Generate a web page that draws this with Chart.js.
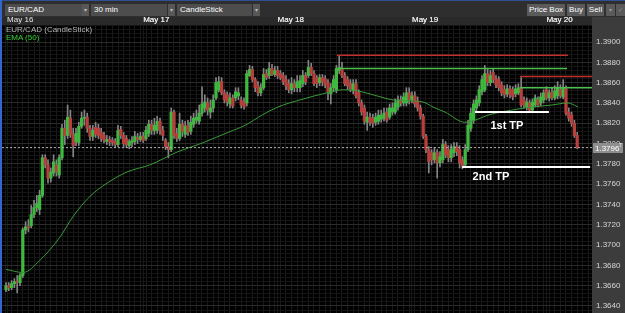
<!DOCTYPE html>
<html><head><meta charset="utf-8">
<script src="https://cdn.jsdelivr.net/npm/chart.js@4.4.1/dist/chart.umd.min.js"></script>
<style>
html,body{margin:0;padding:0;background:#000;width:625px;height:313px;overflow:hidden;font-family:"Liberation Sans",Arial,sans-serif;}
#bar{position:absolute;left:0;top:0;width:625px;height:17px;background:#2e2e2e;border-top:1px solid #2c4f96;box-sizing:border-box;}
.dd{position:absolute;top:3px;height:12px;background:#4d4d4d;color:#fff;font-size:8px;line-height:12px;padding-left:3px;box-sizing:border-box;}
.ar{position:absolute;top:3px;height:12px;width:7px;background:#575757;color:#bbb;font-size:6px;line-height:12px;text-align:center;}
.bt{position:absolute;top:3px;height:12px;background:#5a5a5a;color:#fff;font-size:8px;line-height:12px;text-align:center;}
#side{position:absolute;left:0;top:0;width:2px;height:313px;background:#3466d0;}
#wrap{position:absolute;left:2px;top:17px;width:623px;height:296px;}
.lg{position:absolute;left:6px;font-size:8px;line-height:9px;white-space:nowrap;}
</style></head>
<body>
<div id="bar">
  <div class="dd" style="left:5px;width:77px">EUR/CAD</div><div class="ar" style="left:82px">▾</div>
  <div class="dd" style="left:91px;width:76px">30 min</div><div class="ar" style="left:168px">▾</div>
  <div class="dd" style="left:177px;width:75px">CandleStick</div><div class="ar" style="left:253px">▾</div>
  <div class="bt" style="left:527px;width:38px">Price Box</div>
  <div class="bt" style="left:567px;width:18px">Buy</div>
  <div class="bt" style="left:587px;width:17px">Sell</div>
  <div class="bt" style="left:606px;width:9px;color:#999;font-size:6px">▾</div>
  <div class="bt" style="left:616px;width:9px;color:#999;font-size:6px">✓</div>
</div>
<div id="wrap"><canvas id="c" width="623" height="296"></canvas></div>
<div id="side"></div>
<div class="lg" style="top:25px;color:#b5b5b5">EUR/CAD (CandleStick)</div>
<div class="lg" style="top:33px;color:#33cc33">EMA (50)</div>
<script>
// ---- data (30-min candles, index = candle number) ----
const dayLabels = ['May 16','May 17','May 18','May 19','May 20'];
const dayStart = [0.4, 49, 97, 145, 193];

const open = [
1.3656,1.3660,1.3658,1.3662,1.3664,1.3663,1.3670,1.3715,1.3718,1.3719,
1.3730,1.3737,1.3735,1.3749,1.3786,1.3779,1.3766,1.3771,1.3779,1.3769,
1.3786,1.3815,1.3808,1.3825,1.3809,1.3802,1.3801,1.3817,1.3825,1.3826,
1.3815,1.3807,1.3816,1.3815,1.3811,1.3808,1.3802,1.3804,1.3803,1.3802,
1.3799,1.3814,1.3808,1.3805,1.3798,1.3801,1.3802,1.3806,1.3804,1.3807,
1.3805,1.3810,1.3819,1.3813,1.3813,1.3822,1.3813,1.3803,1.3797,1.3794,
1.3831,1.3810,1.3805,1.3819,1.3809,1.3818,1.3812,1.3819,1.3823,1.3822,
1.3830,1.3835,1.3840,1.3831,1.3835,1.3845,1.3853,1.3861,1.3850,1.3848,
1.3839,1.3845,1.3845,1.3847,1.3843,1.3841,1.3840,1.3867,1.3873,1.3863,
1.3857,1.3850,1.3855,1.3869,1.3867,1.3874,1.3868,1.3872,1.3869,1.3867,
1.3863,1.3859,1.3853,1.3859,1.3855,1.3855,1.3859,1.3867,1.3867,1.3875,
1.3869,1.3865,1.3860,1.3865,1.3864,1.3860,1.3849,1.3855,1.3853,1.3872,
1.3874,1.3867,1.3863,1.3859,1.3853,1.3859,1.3850,1.3840,1.3835,1.3821,
1.3826,1.3825,1.3821,1.3822,1.3824,1.3825,1.3831,1.3826,1.3831,1.3831,
1.3836,1.3843,1.3840,1.3840,1.3850,1.3843,1.3847,1.3842,1.3835,1.3827,
1.3807,1.3794,1.3791,1.3784,1.3791,1.3781,1.3784,1.3799,1.3794,1.3786,
1.3791,1.3797,1.3794,1.3784,1.3779,1.3794,1.3815,1.3823,1.3835,1.3840,
1.3851,1.3853,1.3869,1.3860,1.3870,1.3864,1.3863,1.3858,1.3853,1.3849,
1.3854,1.3853,1.3849,1.3850,1.3855,1.3843,1.3836,1.3840,1.3833,1.3838,
1.3843,1.3840,1.3843,1.3853,1.3845,1.3851,1.3845,1.3847,1.3853,1.3846,
1.3854,1.3831,1.3828,1.3820,1.3808];
const high = [
1.3663,1.3663,1.3665,1.3667,1.3670,1.3672,1.3717,1.3723,1.3725,1.3739,
1.3744,1.3749,1.3754,1.3789,1.3789,1.3784,1.3776,1.3789,1.3784,1.3789,
1.3819,1.3823,1.3838,1.3833,1.3815,1.3815,1.3821,1.3831,1.3833,1.3830,
1.3818,1.3818,1.3821,1.3819,1.3815,1.3811,1.3808,1.3807,1.3806,1.3805,
1.3818,1.3817,1.3811,1.3808,1.3804,1.3807,1.3812,1.3810,1.3811,1.3811,
1.3817,1.3823,1.3823,1.3825,1.3827,1.3825,1.3817,1.3805,1.3801,1.3835,
1.3833,1.3815,1.3830,1.3823,1.3822,1.3823,1.3827,1.3830,1.3833,1.3838,
1.3856,1.3848,1.3845,1.3843,1.3848,1.3865,1.3866,1.3865,1.3853,1.3851,
1.3850,1.3848,1.3855,1.3855,1.3846,1.3845,1.3872,1.3877,1.3876,1.3865,
1.3861,1.3859,1.3874,1.3873,1.3880,1.3878,1.3876,1.3876,1.3872,1.3870,
1.3867,1.3863,1.3865,1.3863,1.3867,1.3867,1.3872,1.3870,1.3882,1.3879,
1.3872,1.3867,1.3868,1.3868,1.3867,1.3863,1.3859,1.3867,1.3877,1.3886,
1.3880,1.3870,1.3866,1.3863,1.3863,1.3863,1.3853,1.3843,1.3838,1.3831,
1.3830,1.3829,1.3830,1.3833,1.3833,1.3835,1.3835,1.3839,1.3840,1.3844,
1.3847,1.3847,1.3850,1.3855,1.3855,1.3851,1.3851,1.3846,1.3838,1.3829,
1.3809,1.3797,1.3794,1.3796,1.3794,1.3792,1.3804,1.3802,1.3798,1.3799,
1.3801,1.3801,1.3798,1.3787,1.3799,1.3823,1.3835,1.3843,1.3847,1.3857,
1.3867,1.3877,1.3873,1.3872,1.3874,1.3867,1.3866,1.3861,1.3857,1.3858,
1.3857,1.3856,1.3858,1.3859,1.3865,1.3846,1.3845,1.3843,1.3844,1.3848,
1.3846,1.3850,1.3853,1.3856,1.3853,1.3855,1.3857,1.3861,1.3858,1.3863,
1.3857,1.3835,1.3831,1.3823,1.3811];
const low = [
1.3654,1.3655,1.3656,1.3658,1.3653,1.3660,1.3668,1.3711,1.3713,1.3717,
1.3727,1.3733,1.3730,1.3747,1.3776,1.3761,1.3762,1.3768,1.3768,1.3766,
1.3784,1.3799,1.3805,1.3806,1.3787,1.3798,1.3798,1.3815,1.3818,1.3811,
1.3803,1.3803,1.3806,1.3805,1.3802,1.3801,1.3799,1.3798,1.3798,1.3796,
1.3797,1.3805,1.3797,1.3796,1.3795,1.3797,1.3799,1.3800,1.3802,1.3801,
1.3803,1.3807,1.3809,1.3809,1.3810,1.3809,1.3803,1.3794,1.3786,1.3792,
1.3805,1.3802,1.3803,1.3807,1.3806,1.3808,1.3809,1.3816,1.3820,1.3819,
1.3827,1.3831,1.3828,1.3825,1.3831,1.3843,1.3851,1.3848,1.3840,1.3837,
1.3835,1.3835,1.3842,1.3843,1.3835,1.3834,1.3837,1.3866,1.3861,1.3851,
1.3847,1.3847,1.3853,1.3863,1.3864,1.3867,1.3866,1.3864,1.3863,1.3858,
1.3853,1.3850,1.3849,1.3851,1.3851,1.3851,1.3856,1.3858,1.3865,1.3867,
1.3857,1.3855,1.3857,1.3857,1.3855,1.3843,1.3839,1.3851,1.3850,1.3869,
1.3865,1.3857,1.3853,1.3851,1.3849,1.3845,1.3837,1.3828,1.3819,1.3813,
1.3818,1.3816,1.3818,1.3819,1.3821,1.3822,1.3821,1.3824,1.3828,1.3829,
1.3833,1.3837,1.3837,1.3837,1.3839,1.3840,1.3836,1.3832,1.3824,1.3805,
1.3791,1.3771,1.3779,1.3781,1.3766,1.3777,1.3781,1.3786,1.3782,1.3782,
1.3787,1.3788,1.3776,1.3775,1.3777,1.3792,1.3812,1.3820,1.3831,1.3837,
1.3848,1.3851,1.3857,1.3857,1.3860,1.3855,1.3852,1.3847,1.3845,1.3846,
1.3845,1.3843,1.3846,1.3848,1.3836,1.3835,1.3833,1.3831,1.3831,1.3836,
1.3836,1.3837,1.3840,1.3843,1.3842,1.3843,1.3843,1.3844,1.3845,1.3844,
1.3828,1.3822,1.3817,1.3806,1.3795];
const close = [
1.3660,1.3658,1.3662,1.3664,1.3663,1.3670,1.3715,1.3718,1.3717,1.3730,
1.3737,1.3741,1.3749,1.3786,1.3779,1.3766,1.3772,1.3782,1.3772,1.3786,
1.3815,1.3808,1.3826,1.3809,1.3798,1.3810,1.3817,1.3825,1.3826,1.3815,
1.3807,1.3813,1.3809,1.3808,1.3805,1.3803,1.3804,1.3802,1.3801,1.3799,
1.3813,1.3808,1.3800,1.3799,1.3802,1.3803,1.3807,1.3804,1.3807,1.3803,
1.3813,1.3819,1.3813,1.3818,1.3822,1.3813,1.3808,1.3797,1.3794,1.3831,
1.3808,1.3805,1.3819,1.3812,1.3817,1.3811,1.3821,1.3825,1.3826,1.3830,
1.3839,1.3841,1.3833,1.3835,1.3843,1.3860,1.3861,1.3850,1.3843,1.3841,
1.3845,1.3837,1.3851,1.3850,1.3838,1.3836,1.3869,1.3873,1.3863,1.3855,
1.3850,1.3855,1.3868,1.3865,1.3874,1.3868,1.3872,1.3867,1.3865,1.3861,
1.3857,1.3853,1.3859,1.3855,1.3861,1.3862,1.3867,1.3861,1.3875,1.3869,
1.3859,1.3859,1.3865,1.3861,1.3858,1.3851,1.3855,1.3863,1.3874,1.3875,
1.3867,1.3859,1.3857,1.3854,1.3859,1.3847,1.3840,1.3831,1.3822,1.3826,
1.3821,1.3820,1.3826,1.3828,1.3828,1.3830,1.3823,1.3835,1.3835,1.3840,
1.3843,1.3840,1.3846,1.3850,1.3843,1.3847,1.3839,1.3835,1.3827,1.3807,
1.3794,1.3782,1.3784,1.3791,1.3781,1.3787,1.3799,1.3789,1.3786,1.3794,
1.3797,1.3792,1.3781,1.3778,1.3794,1.3818,1.3830,1.3839,1.3843,1.3853,
1.3863,1.3869,1.3860,1.3867,1.3863,1.3858,1.3855,1.3850,1.3848,1.3854,
1.3848,1.3846,1.3854,1.3855,1.3838,1.3838,1.3841,1.3833,1.3841,1.3845,
1.3838,1.3846,1.3850,1.3845,1.3850,1.3845,1.3852,1.3855,1.3847,1.3855,
1.3830,1.3825,1.3820,1.3808,1.3796];

// EMA(50) read at candle positions
const emaX = [0,6.1,12.1,19.3,23.9,30,36.1,43.2,51.4,61.4,68.6,79.3,85.4,91.4,97.1,105,114.6,120.4,125.4,131.1,138.2,144.3,148.9,152.5,156.8,163.9,167.5,172.1,180.7,187.9,195,200.7,204.3];
const emaY = [1.3676,1.3673,1.3685,1.3708,1.3728,1.3748,1.3761,1.3772,1.3779,1.3792,1.3799,1.3811,1.3818,1.3828,1.3836,1.3843,1.3850,1.3853,1.3852,1.3848,1.3843,1.3842,1.3841,1.3836,1.3831,1.3821,1.3823,1.3828,1.3833,1.3836,1.3838,1.3840,1.3836];

// drawn levels: price, from candle, to candle
const stopPrice = [1.3887, 1.3866];
const stopFrom  = [118.2, 183.6];
const stopTo    = [200.7, 209.3];
const entryPrice = [1.3874, 1.3855];
const entryFrom  = [118.6, 183.6];
const entryTo    = [200.4, 209.3];
const tpPrice = [1.3831, 1.3777];
const tpFrom  = [167.5, 162.9];
const tpTo    = [193.9, 208.6];
const tpLabels = ['1st TP', '2nd TP'];
const tpLabelX = [178.9, 173.2];
const tpLabelY = [1.3817, 1.3767];
const lastPrice = 1.3796;
const lastLabel = '1.3796';
const yTickLabels = ['1.3640','1.3660','1.3680','1.3700','1.3720','1.3740','1.3760','1.3780','1.3800','1.3820','1.3840','1.3860','1.3880','1.3900'];

// ---- chart ----
const X_MIN = -1.43, X_MAX = 209.29;
const Y_MIN = 1.36331, Y_MAX = 1.39168;
const GREEN = '#3fb93f', RED = '#b8403c';

function seg(p, a, b) { return [{x:a, y:p}, {x:b, y:p}]; }
const lineDs = (data, color, w, dash) => ({type:'line', data, borderColor:color, borderWidth:w, borderDash:dash||[], pointRadius:0, fill:false, tension:0});

const datasets = [];
tpPrice.forEach((p,k)=>datasets.push(lineDs(seg(p,tpFrom[k],tpTo[k]), '#ffffff', 2)));
stopPrice.forEach((p,k)=>datasets.push(lineDs(seg(p,stopFrom[k],stopTo[k]), '#c0302c', 1.5)));
entryPrice.forEach((p,k)=>datasets.push(lineDs(seg(p,entryFrom[k],entryTo[k]), '#4cc04c', 1.6)));
datasets.push(lineDs(seg(lastPrice, X_MIN, X_MAX), '#b0b0b0', 1, [2,2]));
datasets.push({type:'line', data: emaX.map((x,k)=>({x, y:emaY[k]})), borderColor:'#3a9a3a', borderWidth:1, pointRadius:0, fill:false, cubicInterpolationMode:'monotone'});
datasets.push({type:'bar', data: open.map((o,i)=>({x:i, y:[o, close[i]]})),
  backgroundColor: open.map((o,i)=> close[i] >= o ? GREEN : RED),
  barThickness: 2.6, grouped:false, minBarLength:1, borderWidth:0});
datasets.push({type:'bar', data: high.map((h,i)=>({x:i, y:[low[i], h]})),
  backgroundColor:'#858585', barThickness:1, grouped:false, borderWidth:0});

const bgPlugin = {
  id:'bg',
  beforeDraw(chart){
    const {ctx, chartArea:a, width, height} = chart;
    ctx.save();
    ctx.fillStyle = '#2a2a2a'; ctx.fillRect(0,0,width,height);
    ctx.fillStyle = '#3c3c3c'; ctx.fillRect(a.right,0,width-a.right,height);
    ctx.fillStyle = '#000'; ctx.fillRect(a.left,a.top,a.right-a.left,a.bottom-a.top);
    ctx.restore();
  },
  afterDraw(chart){
    const {ctx, chartArea:a, scales:{x,y}} = chart;
    ctx.save();
    ctx.font = 'bold 11px "Liberation Sans", Arial, sans-serif';
    ctx.fillStyle = '#fff'; ctx.textAlign='center'; ctx.textBaseline='middle';
    tpLabels.forEach((t,k)=> ctx.fillText(t, x.getPixelForValue(tpLabelX[k]), y.getPixelForValue(tpLabelY[k])));
    const py = Math.round(y.getPixelForValue(lastPrice));
    ctx.fillStyle = '#8e8e8e'; ctx.fillRect(a.right+1, py-5, 30, 10);
    ctx.font = '8px "Liberation Sans", Arial, sans-serif';
    ctx.fillStyle = '#fff'; ctx.textAlign='left';
    ctx.fillText(lastLabel, a.right+3, py+0.5);
    ctx.font = '5px "Liberation Sans", Arial, sans-serif';
    ctx.fillText('7', a.right+27, py-2);
    ctx.restore();
  }
};

const isMajor = (v) => yTickLabels.includes(v.toFixed(4));

new Chart(document.getElementById('c'), {
  type:'bar',
  data:{datasets},
  plugins:[bgPlugin],
  options:{
    responsive:false, animation:false, events:[],
    layout:{padding:0, autoPadding:false},
    plugins:{legend:{display:false}, tooltip:{enabled:false}},
    scales:{
      x:{type:'linear', position:'top', min:X_MIN, max:X_MAX, offset:false,
        border:{display:false},
        grid:{color:'#1a1a1a', lineWidth:1, drawTicks:false},
        ticks:{autoSkip:false, maxRotation:0, padding:0, align:'start', color:'#e6e6e6',
          font:{size:8, family:'"Liberation Sans", Arial, sans-serif'},
          callback:(v)=>{const k=dayStart.indexOf(v); return k>=0?dayLabels[k]:'';}},
        afterBuildTicks:(s)=>{const t=[]; for(let v=-1; v<=209; v+=2) t.push({value:v}); dayStart.forEach(d=>t.push({value:d})); t.sort((a,b)=>a.value-b.value); s.ticks=t;},
        afterFit:(s)=>{s.height=8; s.paddingLeft=0; s.paddingRight=0;}
      },
      y:{type:'linear', position:'right', min:Y_MIN, max:Y_MAX,
        border:{display:false},
        grid:{color:(c)=> (c.tick && isMajor(c.tick.value)) ? '#2a2a2a' : '#151515', lineWidth:1, drawTicks:false},
        ticks:{autoSkip:false, padding:4, color:'#d6d6d6',
          font:{size:8, family:'"Liberation Sans", Arial, sans-serif'},
          callback:(v)=> isMajor(v) ? v.toFixed(4) : ''},
        afterBuildTicks:(s)=>{const t=[]; for(let k=13632;k<=13916;k+=4) t.push({value:k/10000}); s.ticks=t;},
        afterFit:(s)=>{s.width=33; s.paddingTop=0; s.paddingBottom=0;}
      }
    }
  }
});
</script>
</body></html>
